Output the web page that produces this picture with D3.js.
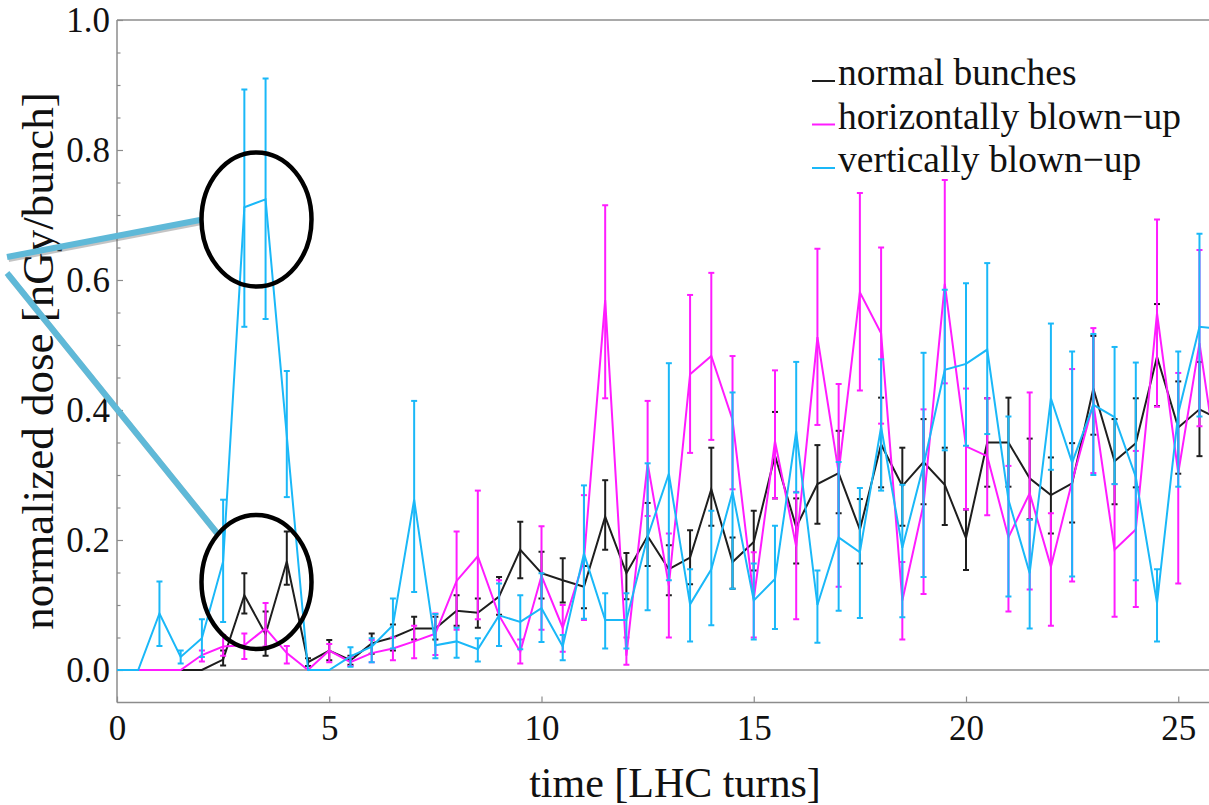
<!DOCTYPE html>
<html>
<head>
<meta charset="utf-8">
<script src="https://cdn.jsdelivr.net/npm/d3@7"></script>
<style>
  html, body { margin: 0; padding: 0; background: #fff; }
  svg { display: block; }
  text { font-family: "Liberation Serif", "DejaVu Serif", serif; fill: #111; }
</style>
</head>
<body>
<svg id="chart" width="1209" height="805"></svg>
<script>
// ---------------- data ----------------
const time = [0,0.5,1,1.5,2,2.5,3,3.5,4,4.5,5,5.5,6,6.5,7,7.5,8,8.5,9,9.5,10,10.5,11,11.5,12,12.5,13,13.5,14,14.5,15,15.5,16,16.5,17,17.5,18,18.5,19,19.5,20,20.5,21,21.5,22,22.5,23,23.5,24,24.5,25,25.5,26];

const normalVal = [0,0,0,0,0,0.016,0.115,0.055,0.167,0.012,0.030,0.015,0.041,0.050,0.064,0.064,0.091,0.088,0.113,0.185,0.149,0.138,0.128,0.236,0.149,0.206,0.155,0.173,0.278,0.166,0.197,0.330,0.220,0.286,0.303,0.216,0.347,0.283,0.320,0.285,0.203,0.350,0.350,0.295,0.269,0.287,0.433,0.321,0.349,0.482,0.373,0.401,0.385];
const normalLo  = [0,0,0,0,0,0.007,0.087,0.022,0.131,0.006,0.015,0.008,0.025,0.030,0.047,0.047,0.068,0.065,0.085,0.141,0.110,0.104,0.095,0.185,0.109,0.160,0.115,0.132,0.222,0.125,0.153,0.264,0.164,0.225,0.241,0.164,0.281,0.222,0.255,0.223,0.154,0.282,0.282,0.232,0.210,0.227,0.362,0.255,0.281,0.406,0.302,0.329,0.310];
const normalHi  = [0,0,0,0,0,0.030,0.149,0.090,0.213,0.018,0.046,0.022,0.056,0.070,0.082,0.082,0.115,0.110,0.143,0.228,0.182,0.172,0.160,0.292,0.180,0.257,0.192,0.215,0.342,0.204,0.245,0.397,0.264,0.346,0.368,0.263,0.419,0.342,0.386,0.342,0.247,0.418,0.419,0.356,0.327,0.349,0.514,0.386,0.418,0.563,0.444,0.474,0.460];

const horizVal = [0,0,0,0,0.023,0.036,0.038,0.064,0.026,0,0.030,0.012,0.026,0.033,0.044,0.056,0.137,0.175,0.084,0.028,0.145,0.065,0.169,0.569,0.022,0.318,0.130,0.455,0.483,0.385,0.109,0.352,0.190,0.512,0.304,0.581,0.518,0.107,0.255,0.594,0.344,0.329,0.204,0.272,0.159,0.290,0.410,0.185,0.216,0.549,0.303,0.503,0.280];
const horizLo  = [0,0,0,0,0.013,0.022,0.017,0.036,0.010,0,0.012,0.006,0.012,0.015,0.018,0.023,0.062,0.078,0.037,0.010,0.062,0.028,0.077,0.418,0.008,0.237,0.050,0.334,0.354,0.278,0.050,0.264,0.078,0.377,0.128,0.430,0.379,0.047,0.117,0.441,0.247,0.238,0.090,0.124,0.068,0.136,0.303,0.082,0.097,0.405,0.133,0.375,0.150];
const horizHi  = [0,0,0,0,0.030,0.054,0.056,0.103,0.037,0,0.040,0.020,0.046,0.050,0.068,0.087,0.213,0.276,0.138,0.047,0.221,0.100,0.269,0.715,0.050,0.414,0.210,0.577,0.611,0.483,0.181,0.461,0.274,0.648,0.440,0.734,0.650,0.166,0.401,0.754,0.433,0.418,0.314,0.427,0.241,0.463,0.526,0.286,0.337,0.693,0.457,0.646,0.410];

const vertVal = [0,0,0.087,0.020,0.049,0.167,0.712,0.724,0.360,0,0,0.021,0.036,0.069,0.262,0.038,0.044,0.032,0.084,0.074,0.095,0.036,0.179,0.077,0.077,0.205,0.302,0.101,0.155,0.274,0.107,0.140,0.367,0.100,0.204,0.181,0.374,0.188,0.315,0.462,0.471,0.493,0.262,0.149,0.418,0.319,0.408,0.389,0.297,0.103,0.395,0.528,0.525];
const vertLo  = [0,0,0.037,0.010,0.020,0.074,0.528,0.540,0.266,0,0,0.005,0.012,0.033,0.120,0.018,0.019,0.013,0.037,0.032,0.043,0.015,0.079,0.033,0.033,0.092,0.138,0.044,0.069,0.125,0.047,0.063,0.273,0.042,0.091,0.080,0.276,0.081,0.143,0.338,0.345,0.363,0.113,0.064,0.308,0.144,0.300,0.286,0.138,0.044,0.282,0.390,0.390];
const vertHi  = [0,0,0.136,0.030,0.078,0.262,0.893,0.910,0.460,0,0,0.035,0.049,0.110,0.414,0.086,0.065,0.049,0.133,0.115,0.149,0.054,0.284,0.118,0.118,0.318,0.472,0.155,0.245,0.427,0.164,0.222,0.474,0.153,0.320,0.280,0.478,0.285,0.488,0.585,0.595,0.626,0.390,0.231,0.533,0.490,0.517,0.497,0.473,0.155,0.490,0.671,0.670];

const seriesNames  = ["normal bunches", "horizontally blown\u2212up", "vertically blown\u2212up"];
const seriesColors = ["#1e1e1e", "#ff1cff", "#1ab8f8"];

const xTicks = [0,5,10,15,20,25];
const yMajorTicks = [0,0.2,0.4,0.6,0.8,1.0];
const yMinorTicks = [0.05,0.1,0.15,0.25,0.3,0.35,0.45,0.5,0.55,0.65,0.7,0.75,0.85,0.9,0.95];

const xLabel = "time [LHC turns]";
const yLabel = "normalized dose [nGy/bunch]";

// ---------------- layout ----------------
const svg = d3.select("#chart");
const plotL = 117, plotT = 20, plotR = 1209, plotB = 702.5;

const x = d3.scaleLinear().domain([0, 26]).range([plotL, plotL + 26 * 42.45]);
const y = d3.scaleLinear().domain([-0.05, 1.0]).range([plotB, plotT]);

svg.append("defs").append("clipPath").attr("id", "plotclip")
  .append("rect").attr("x", plotL).attr("y", plotT).attr("width", plotR - plotL).attr("height", plotB - plotT);

const axisColor = "#8c8c8c";

// frame + zero line
svg.append("line").attr("x1", plotL).attr("x2", plotR).attr("y1", plotT).attr("y2", plotT)
  .attr("stroke", axisColor).attr("stroke-width", 1.5);
svg.append("line").attr("x1", plotL).attr("x2", plotL).attr("y1", plotT).attr("y2", plotB)
  .attr("stroke", axisColor).attr("stroke-width", 1.5);
svg.append("line").attr("x1", plotL).attr("x2", plotR).attr("y1", plotB).attr("y2", plotB)
  .attr("stroke", axisColor).attr("stroke-width", 1.5);
svg.append("line").attr("x1", plotL).attr("x2", plotR).attr("y1", y(0)).attr("y2", y(0))
  .attr("stroke", axisColor).attr("stroke-width", 1.5);

// axes
const yAxis = svg.append("g").attr("transform", `translate(${plotL},0)`)
  .call(d3.axisLeft(y).tickValues(yMajorTicks).tickFormat(d3.format(".1f")).tickSize(-6).tickPadding(7));
const yMinor = svg.append("g").attr("transform", `translate(${plotL},0)`)
  .call(d3.axisLeft(y).tickValues(yMinorTicks).tickFormat("").tickSize(-3.5));
const xAxis = svg.append("g").attr("transform", `translate(0,${plotB})`)
  .call(d3.axisBottom(x).tickValues(xTicks).tickFormat(d3.format("d")).tickSize(-6).tickPadding(13));

[yAxis, yMinor, xAxis].forEach(g => {
  g.select(".domain").remove();
  g.selectAll(".tick line").attr("stroke", axisColor).attr("stroke-width", 1.2);
  g.selectAll("text").attr("font-size", 35).attr("fill", "#111")
    .attr("font-family", "Liberation Serif, serif");
});

// axis labels
svg.append("text").attr("x", 675).attr("y", 797).attr("text-anchor", "middle")
  .attr("font-size", 42).text(xLabel);
svg.append("text").attr("transform", `translate(53,361) rotate(-90)`).attr("text-anchor", "middle")
  .attr("font-size", 45).text(yLabel);

// series
const series = [
  {val: normalVal, lo: normalLo, hi: normalHi},
  {val: horizVal, lo: horizLo, hi: horizHi},
  {val: vertVal,  lo: vertLo,  hi: vertHi}
];
const plot = svg.append("g").attr("clip-path", "url(#plotclip)");
const line = d3.line().x(d => x(d.t)).y(d => y(d.v));

series.forEach((s, i) => {
  const pts = time.map((t, k) => ({t, v: s.val[k], lo: s.lo[k], hi: s.hi[k]}));
  const g = plot.append("g").attr("stroke", seriesColors[i]).attr("fill", "none");
  const eb = pts.filter(d => d.hi - d.lo > 0.0001);
  g.selectAll("line.bar").data(eb).join("line").attr("class", "bar")
    .attr("x1", d => x(d.t)).attr("x2", d => x(d.t))
    .attr("y1", d => y(d.lo)).attr("y2", d => y(d.hi)).attr("stroke-width", 2);
  g.selectAll("line.capt").data(eb).join("line").attr("class", "capt")
    .attr("x1", d => x(d.t) - 3).attr("x2", d => x(d.t) + 3)
    .attr("y1", d => y(d.hi)).attr("y2", d => y(d.hi)).attr("stroke-width", 2);
  g.selectAll("line.capb").data(eb).join("line").attr("class", "capb")
    .attr("x1", d => x(d.t) - 3).attr("x2", d => x(d.t) + 3)
    .attr("y1", d => y(d.lo)).attr("y2", d => y(d.lo)).attr("stroke-width", 2);
  g.append("path").datum(pts).attr("d", line).attr("stroke-width", 2).attr("stroke-linejoin", "miter");
});

// legend
const legend = svg.append("g");
seriesNames.forEach((name, i) => {
  const by = 85 + i * 43.5;
  legend.append("line").attr("x1", 812).attr("x2", 835).attr("y1", by - 4).attr("y2", by - 4)
    .attr("stroke", seriesColors[i]).attr("stroke-width", 2);
  legend.append("text").attr("x", 838).attr("y", by).attr("font-size", 37.5).text(name);
});

// annotations (ellipses + pointer lines)
const ann = svg.append("g");
const pointers = [[7, 257, 200, 220], [7, 273, 217, 533]];
pointers.forEach(p => {
  ann.append("line").attr("x1", p[0] + 1.5).attr("y1", p[1] + 2).attr("x2", p[2] + 1.5).attr("y2", p[3] + 2)
    .attr("stroke", "#555").attr("stroke-opacity", 0.35).attr("stroke-width", 6);
  ann.append("line").attr("x1", p[0]).attr("y1", p[1]).attr("x2", p[2]).attr("y2", p[3])
    .attr("stroke", "#5fb9d8").attr("stroke-width", 6);
});
[[256.5, 219.5], [256.5, 582]].forEach(c => {
  ann.append("ellipse").attr("cx", c[0]).attr("cy", c[1]).attr("rx", 55).attr("ry", 67)
    .attr("fill", "none").attr("stroke", "#000").attr("stroke-width", 4.5);
});
</script>
</body>
</html>
